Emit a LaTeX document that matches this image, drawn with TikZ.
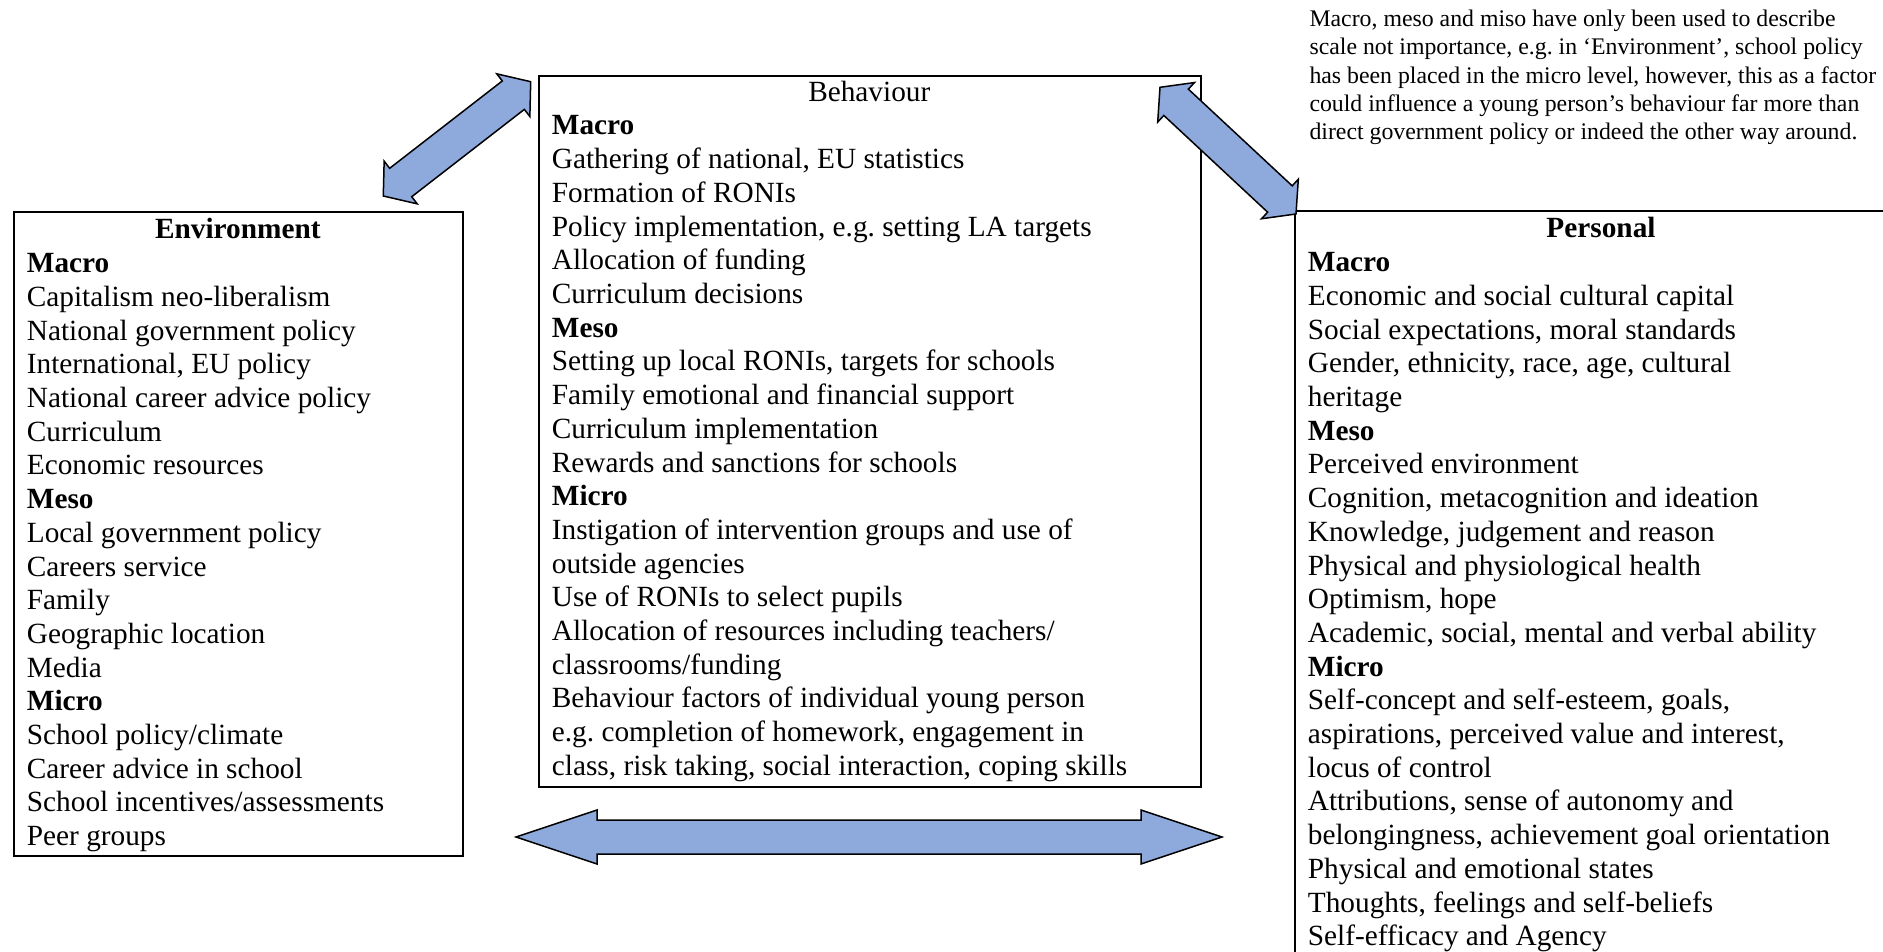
\documentclass[tikz,border=0pt]{standalone}
\usepackage{fontspec}
\setmainfont{Liberation Serif}
\usetikzlibrary{calc}
\frenchspacing
\definecolor{arrowblue}{RGB}{142,169,219}
\tikzset{
  panel/.style={draw=black, line width=2pt, inner sep=0pt, anchor=north west},
  bodytext/.style={anchor=base west, inner sep=0pt, font=\fontsize{29.3}{33.7}\selectfont},
  headtext/.style={anchor=base, inner sep=0pt, font=\fontsize{29.3}{33.7}\selectfont},
  notetext/.style={anchor=base west, inner sep=0pt, font=\fontsize{23.8}{28}\selectfont},
  fatarrow/.style={fill=arrowblue, draw=black, line width=1.5pt, line join=miter},
}
% block double arrow between two tips: #1,#2 tips, #3 head length, #4 head half width, #5 shaft half width
\newcommand\fatdoublearrow[5]{%
  \coordinate (ha) at ($(#1)!#3!(#2)$);
  \coordinate (hb) at ($(#2)!#3!(#1)$);
  \draw[fatarrow] (#1) -- ($(ha)!#4!90:(#2)$) -- ($(ha)!#5!90:(#2)$)
    -- ($(hb)!#5!-90:(#1)$) -- ($(hb)!#4!-90:(#1)$) -- (#2)
    -- ($(hb)!#4!90:(#1)$) -- ($(hb)!#5!90:(#1)$)
    -- ($(ha)!#5!-90:(#2)$) -- ($(ha)!#4!-90:(#2)$) -- cycle;
}
\begin{document}
\begin{tikzpicture}[x=1pt, y=-1pt]
\useasboundingbox (0,0) rectangle (1883,952);

% panels
\node[panel, minimum width=449pt, minimum height=644pt] (env) at (13.3,210.7) {};
\node[panel, minimum width=662pt, minimum height=711pt] (beh) at (538.3,75) {};
\node[panel, minimum width=640pt, minimum height=780pt] (pers) at (1294.3,210) {};

% Environment
\node[headtext, font=\fontsize{29.3}{33.7}\selectfont\bfseries] (env-title) at (237.8,239) {Environment};
\foreach \t [count=\i from 0] in {\textbf{Macro}, Capitalism neo-liberalism, National government policy, {International, EU policy}, National career advice policy, Curriculum, Economic resources, \textbf{Meso}, Local government policy, Careers service, Family, Geographic location, Media, \textbf{Micro}, School policy/climate, Career advice in school, School incentives/assessments, Peer groups}
  \node[bodytext] (env-\i) at ({26.7}, {272.7+\i*33.7}) {\t};

% Behaviour
\node[headtext] (beh-title) at (869.3,101.3) {Behaviour};
\foreach \t [count=\i from 0] in {\textbf{Macro}, {Gathering of national, EU statistics}, Formation of RONIs, {Policy implementation, e.g. setting LA targets}, Allocation of funding, Curriculum decisions, \textbf{Meso}, {Setting up local RONIs, targets for schools}, Family emotional and financial support, Curriculum implementation, Rewards and sanctions for schools, \textbf{Micro}, Instigation of intervention groups and use of, outside agencies, Use of RONIs to select pupils, Allocation of resources including teachers/, classrooms/funding, Behaviour factors of individual young person, {e.g. completion of homework, engagement in}, {class, risk taking, social interaction, coping skills}}
  \node[bodytext] (beh-\i) at ({551.7}, {135+\i*33.7}) {\t};

% Personal
\node[headtext, font=\fontsize{29.3}{33.7}\selectfont\bfseries] (pers-title) at (1601,238) {Personal};
\foreach \t [count=\i from 0] in {\textbf{Macro}, Economic and social cultural capital, {Social expectations, moral standards}, {Gender, ethnicity, race, age, cultural}, heritage, \textbf{Meso}, Perceived environment, {Cognition, metacognition and ideation}, {Knowledge, judgement and reason}, Physical and physiological health, {Optimism, hope}, {Academic, social, mental and verbal ability}, \textbf{Micro}, {Self-concept and self-esteem, goals,}, {aspirations, perceived value and interest,}, locus of control, {Attributions, sense of autonomy and}, {belongingness, achievement goal orientation}, Physical and emotional states, {Thoughts, feelings and self-beliefs}, Self-efficacy and Agency}
  \node[bodytext] (pers-\i) at ({1307.7}, {271.7+\i*33.7}) {\t};

% note
\foreach \t [count=\i from 0] in {{Macro, meso and miso have only been used to describe}, {scale not importance, e.g. in ‘Environment’, school policy}, {has been placed in the micro level, however, this as a factor}, could influence a young person’s behaviour far more than, direct government policy or indeed the other way around.}
  \node[notetext] (note-\i) at ({1309.3}, {26.7+\i*28.2}) {\t};

% arrows
\coordinate (envtip) at (383.3,196);
\coordinate (behtipl) at (530.7,81.7);
\coordinate (behtipr) at (1160,87.3);
\coordinate (perstip) at (1296,214);
\coordinate (lowl) at (516,837);
\coordinate (lowr) at (1222,837);
\fatdoublearrow{envtip}{behtipl}{22pt}{27pt}{18pt}
\fatdoublearrow{behtipr}{perstip}{22pt}{27pt}{18pt}
\fatdoublearrow{lowl}{lowr}{81pt}{27pt}{17pt}
\end{tikzpicture}
\end{document}
